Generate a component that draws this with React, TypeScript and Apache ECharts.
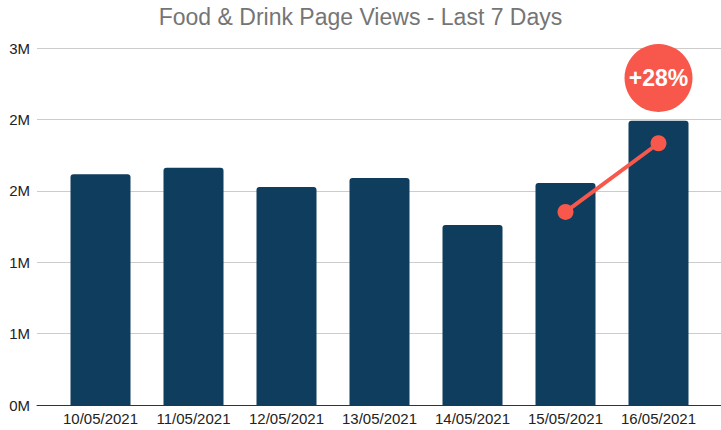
import React, { useEffect, useRef } from "react";
import * as echarts from "echarts";

const categories = ["10/05/2021", "11/05/2021", "12/05/2021", "13/05/2021", "14/05/2021", "15/05/2021", "16/05/2021"];
const pageViews = [1616000, 1662000, 1527000, 1590000, 1261000, 1555000, 1990000];
const trendLine = [null, null, null, null, null, 1352000, 1833000];
const badgeValue = [null, null, null, null, null, null, 2290000];
const badgeText = "+28%";
const titleText = "Food & Drink Page Views - Last 7 Days";

const RED = "#f7584b";
const NAVY = "#0f3d5d";

export default function App() {
  const ref = useRef<HTMLDivElement>(null);
  useEffect(() => {
    if (!ref.current) return;
    const chart = echarts.init(ref.current, null, { renderer: "svg" });
    const fmt = (v: number) => Math.round(v / 1e6) + "M";
    chart.setOption({
      animation: false,
      title: {
        text: titleText,
        left: "center",
        top: 0,
        textStyle: { fontFamily: "Liberation Sans, Arial", fontSize: 23, fontWeight: "normal", color: "#757575" },
      },
      grid: [
        { left: 37, right: 0, top: 48, bottom: 25 },
        { left: 54, right: 16, top: 48, bottom: 25 },
      ],
      xAxis: [
        {
          gridIndex: 0,
          type: "value",
          min: 0,
          max: 1,
          axisLine: { show: true, onZero: false, lineStyle: { color: "#333", width: 1 } },
          axisTick: { show: false },
          axisLabel: { show: false },
          splitLine: { show: false },
        },
        {
          gridIndex: 1,
          type: "category",
          data: categories,
          axisLine: { show: false },
          axisTick: { show: false },
          axisLabel: { interval: 0, fontFamily: "Liberation Sans, Arial", fontSize: 15, color: "#222", margin: 6 },
        },
      ],
      yAxis: [
        {
          gridIndex: 0,
          type: "value",
          min: 0,
          max: 2500000,
          interval: 500000,
          axisLine: { show: false },
          axisTick: { show: false },
          axisLabel: { formatter: fmt, fontFamily: "Liberation Sans, Arial", fontSize: 15, color: "#222", margin: 7 },
          splitLine: { lineStyle: { color: "#cccccc", width: 1 } },
        },
        {
          gridIndex: 1,
          type: "value",
          min: 0,
          max: 2500000,
          interval: 500000,
          show: false,
          splitLine: { show: false },
        },
      ],
      series: [
        {
          type: "bar",
          xAxisIndex: 1,
          yAxisIndex: 1,
          data: pageViews,
          barWidth: 60,
          itemStyle: { color: NAVY, borderRadius: [3, 3, 0, 0] },
        },
        {
          type: "line",
          xAxisIndex: 1,
          yAxisIndex: 1,
          data: trendLine,
          symbol: "circle",
          symbolSize: 16,
          lineStyle: { color: RED, width: 4 },
          itemStyle: { color: RED },
          z: 5,
        },
        {
          type: "scatter",
          xAxisIndex: 1,
          yAxisIndex: 1,
          data: badgeValue,
          symbol: "circle",
          symbolSize: 68,
          itemStyle: { color: RED, opacity: 1 },
          label: {
            show: true,
            position: "inside",
            formatter: badgeText,
            color: "#fff",
            fontFamily: "Liberation Sans, Arial",
            fontWeight: "bold",
            fontSize: 23,
          },
          z: 6,
        },
      ],
    });
    return () => chart.dispose();
  }, []);
  return <div ref={ref} style={{ width: 721, height: 430, position: "absolute", left: 0, top: 0 }} />;
}
